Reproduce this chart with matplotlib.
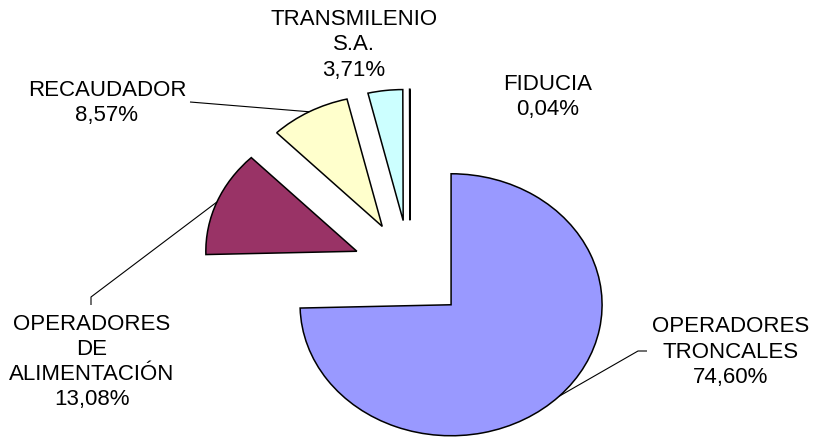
import numpy as np
import matplotlib
matplotlib.use("Agg")
import matplotlib.pyplot as plt

# ---- data ----
categories = ["OPERADORES\nTRONCALES", "OPERADORES\nDE\nALIMENTACIÓN",
              "RECAUDADOR", "TRANSMILENIO\nS.A.", "FIDUCIA"]
values = [74.60, 13.08, 8.57, 3.71, 0.04]
colors = ["#9999FF", "#993366", "#FFFFCC", "#CCFFFF", "#660066"]

# ---- layout (pixels of the 817x438 figure) ----
W, H = 817, 438
CX, CY = 410, 270          # pie centre in px (from top)
RX, RY = 151, 131          # radius in px (x, y)
explode_amt = 0.38

label_px = [(731, 352), (92, 362), (107, 103), (354, 45), (548, 97)]

def px2data(x, y):
    return (x - CX) / RX, (CY - y) / RY

fig = plt.figure(figsize=(W / 100, H / 100), dpi=100)
ax = fig.add_axes([0, 0, 1, 1])
wedges, _ = ax.pie(values, colors=colors, startangle=90, counterclock=False,
                   explode=[explode_amt] * len(values), radius=1.0,
                   wedgeprops=dict(edgecolor="black", linewidth=1.1))
ax.set_aspect("auto")
ax.set_xlim(-CX / RX, (W - CX) / RX)
ax.set_ylim(-(H - CY) / RY, CY / RY)
ax.axis("off")

font = dict(family=["Liberation Sans", "DejaVu Sans"], fontsize=16, color="black")

anchors = []
for w in wedges:
    mid = np.deg2rad((w.theta1 + w.theta2) / 2)
    cx, cy = w.center
    anchors.append((cx + np.cos(mid), cy + np.sin(mid)))

for i, (cat, v) in enumerate(zip(categories, values)):
    lx, ly = px2data(*label_px[i])
    txt = f"{cat}\n{v:.2f}".replace(".", ",") + "%"
    txt = txt.replace("S,A,", "S.A.")
    ax.text(lx, ly, txt, ha="center", va="center", multialignment="center",
            linespacing=1.27, **font)

# leader lines
def leader(i, pts_px):
    pts = [anchors[i]] + [px2data(x, y) for x, y in pts_px]
    xs, ys = zip(*pts)
    ax.plot(xs, ys, color="black", linewidth=0.8, solid_capstyle="butt")

leader(0, [(638, 351), (647, 351)])
leader(1, [(91, 297), (91, 305)])
leader(2, [(190, 102)])

fig.savefig("out.png", dpi=100, facecolor="white")
